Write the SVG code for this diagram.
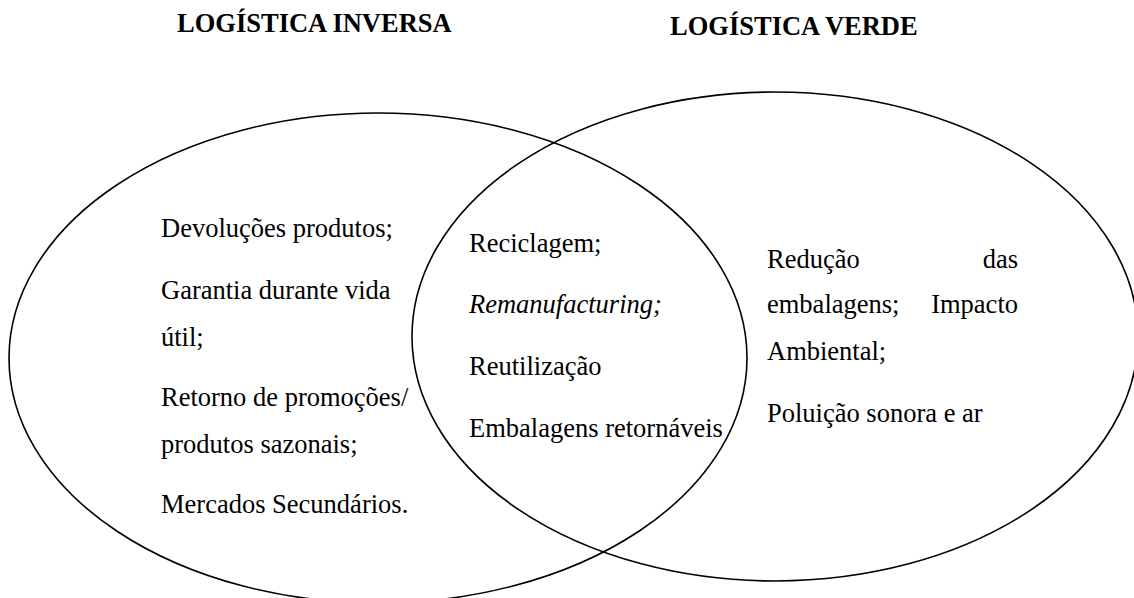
<svg xmlns="http://www.w3.org/2000/svg" width="1134" height="598" viewBox="0 0 1134 598">
  <style>
    .ring { fill: none; stroke: #000; stroke-width: 1.6; }
    .t { font-family: "Liberation Serif", "Times New Roman", serif; font-size: 26.5px; fill: #000; }
    .title { font-weight: bold; }
    .it { font-style: italic; }
  </style>
  <rect width="1134" height="598" fill="#fff"/>
  <g id="connectors"></g>
  <g id="inversa">
    <ellipse class="ring" cx="378" cy="358" rx="369" ry="245"/>
    <text class="t title" x="177" y="32">LOGÍSTICA INVERSA</text>
    <text class="t" x="161" y="237">Devoluções produtos;</text>
    <text class="t" x="161" y="299">Garantia durante vida</text>
    <text class="t" x="161" y="346">útil;</text>
    <text class="t" x="161" y="406">Retorno de promoções/</text>
    <text class="t" x="161" y="453">produtos sazonais;</text>
    <text class="t" x="161" y="513">Mercados Secundários.</text>
  </g>
  <g id="verde">
    <ellipse class="ring" cx="775" cy="336.5" rx="363" ry="244.5"/>
    <text class="t title" x="670" y="35">LOGÍSTICA VERDE</text>
    <text class="t" x="767" y="268">Redução</text>
    <text class="t" x="1018" y="268" text-anchor="end">das</text>
    <text class="t" x="767" y="313">embalagens;</text>
    <text class="t" x="1018" y="313" text-anchor="end">Impacto</text>
    <text class="t" x="767" y="360">Ambiental;</text>
    <text class="t" x="767" y="422">Poluição sonora e ar</text>
  </g>
  <g id="intersecao">
    <text class="t" x="469" y="252">Reciclagem;</text>
    <text class="t it" x="469" y="313">Remanufacturing;</text>
    <text class="t" x="469" y="375">Reutilização</text>
    <text class="t" x="469" y="437">Embalagens retornáveis</text>
  </g>
</svg>
